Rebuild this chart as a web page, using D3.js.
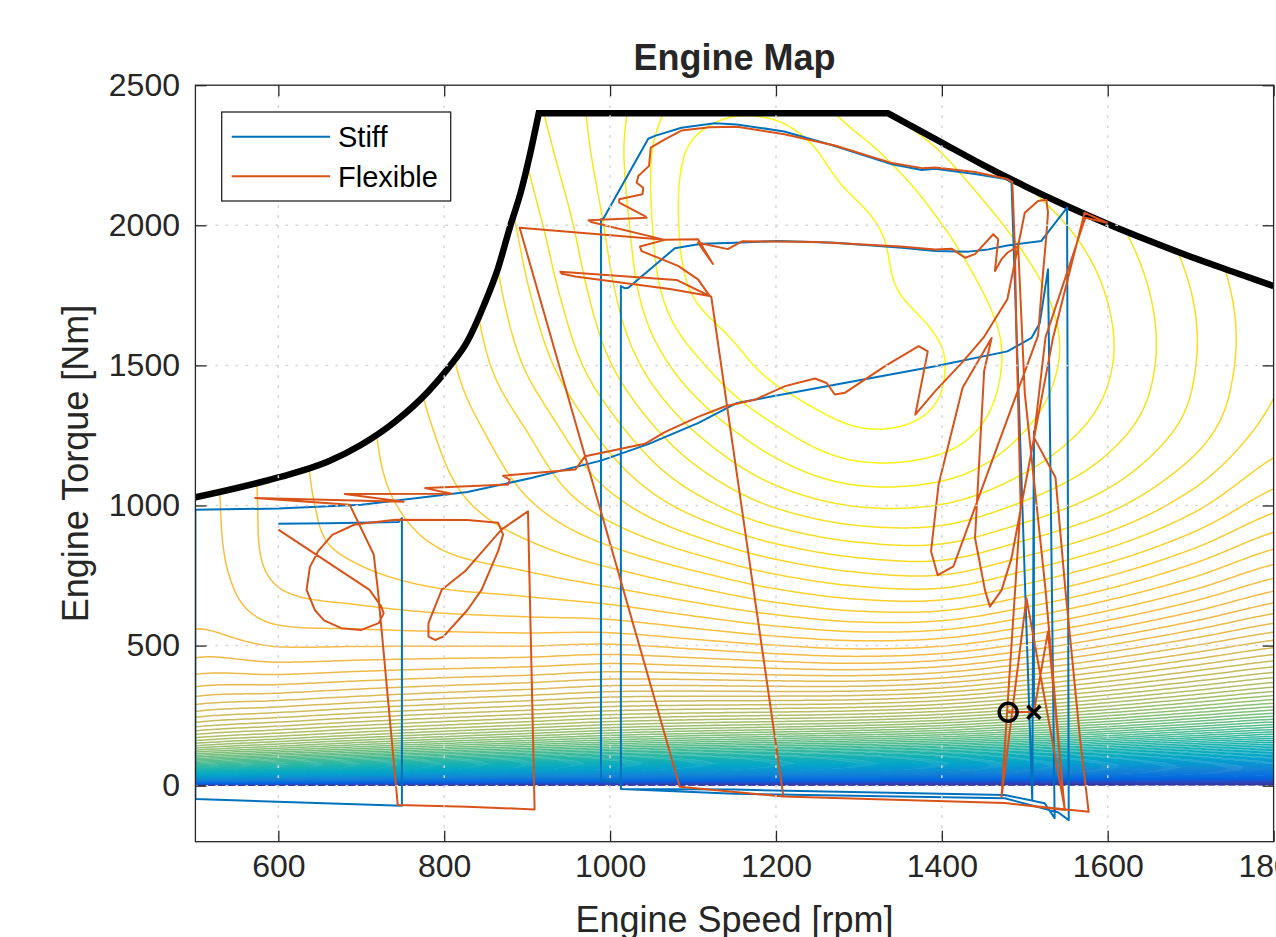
<!DOCTYPE html>
<meta charset="utf-8">
<style>
  body { margin: 0; background: #fff; }
  svg { display: block; font-family: "Liberation Sans", Arial, sans-serif; }
  .axis text { fill: #262626; font-size: 32px; font-family: "Liberation Sans", Arial, sans-serif; }
  .axis line { stroke: #262626; stroke-width: 1.3px; }
  .axis path { display: none; }
  .grid line { stroke: #d6d6d6; stroke-width: 1.5px; stroke-dasharray: 2.7 7.3; }
  .lbl { fill: #262626; font-size: 36px; }
</style>
<svg width="1276" height="937"></svg>
<script src="https://d3js.org/d3.v7.min.js"></script>
<script>
  // efficiency map, stored as indicated efficiency (%) on a speed x torque grid plus friction torque per speed
  var speedGrid = [500, 600, 700, 800, 900, 1000, 1100, 1200, 1300, 1400, 1500, 1600, 1700, 1800];
  var torqueGrid = [0, 250, 500, 750, 1000, 1250, 1500, 1750, 2000, 2250, 2500];
  var frictionTorque = [57, 68, 79, 90, 101, 112, 123, 134, 145, 156, 167, 178, 189, 200];
  var indicatedEff = [
    [40.4, 41.4, 42.2, 43.0, 43.8, 44.5, 45.5, 46.5, 47.5, 48.2, 48.1, 47.8, 47.3, 46.8],
    [40.7, 41.6, 42.4, 43.2, 44.0, 44.7, 45.7, 46.8, 47.8, 48.4, 48.3, 48.0, 47.5, 47.0],
    [40.4, 41.5, 42.3, 43.1, 43.9, 44.6, 45.7, 46.9, 48.0, 48.6, 48.5, 48.1, 47.6, 47.1],
    [39.5, 41.0, 41.9, 42.8, 43.6, 44.6, 45.8, 47.1, 48.2, 48.9, 48.7, 48.3, 47.7, 47.0],
    [38.9, 40.3, 41.3, 42.3, 43.4, 44.8, 46.3, 47.7, 48.7, 49.1, 48.9, 48.5, 47.8, 47.0],
    [38.5, 39.8, 40.8, 41.9, 43.2, 44.9, 46.6, 48.0, 49.0, 49.2, 48.7, 48.2, 47.5, 46.7],
    [38.1, 39.3, 40.4, 41.7, 43.3, 45.1, 46.9, 48.1, 48.6, 48.6, 48.1, 47.6, 46.8, 46.0],
    [37.7, 38.8, 40.0, 41.5, 43.3, 45.1, 47.1, 47.6, 47.8, 47.7, 47.3, 46.8, 46.0, 45.2],
    [37.2, 38.3, 39.6, 41.3, 43.3, 45.0, 46.9, 47.2, 47.3, 46.9, 46.4, 45.9, 45.1, 44.3],
    [36.7, 37.8, 39.2, 41.1, 43.4, 44.9, 46.5, 46.9, 46.5, 46.0, 45.4, 44.9, 44.1, 43.3],
    [36.2, 37.3, 38.8, 40.9, 43.5, 44.7, 45.8, 46.1, 45.6, 45.0, 44.4, 43.9, 43.1, 42.3]
  ];
  var levelStep = 0.5;

  // full load torque curve: rising part, then flat top and constant power part
  var limitRise = [[500, 1029], [600, 1100], [660, 1157], [700, 1217], [741, 1300], [781, 1408], [805, 1491],
    [828, 1586], [848, 1716], [865, 1848], [879, 1991], [893, 2126], [904, 2261], [914, 2400]];
  var limitFall = [[1335, 2400], [1400, 2295], [1450, 2215], [1500, 2140], [1550, 2070], [1600, 2005],
    [1650, 1945], [1700, 1888], [1750, 1835], [1800, 1783]];

  var stiffPath = [[600, 935], [660, 937], [745, 941], [749, 955], [749, -72], [500, -48], [500, 985], [600, 989],
    [700, 1003], [828, 1048], [905, 1098], [989, 1160], [1046, 1219], [1106, 1294], [1153, 1366], [1271, 1431],
    [1392, 1497], [1479, 1550], [1508, 1598], [1518, 1650], [1528, 1843], [1536, -116], [1524, -63], [1476, -33],
    [1150, -14], [1013, -12], [1013, 1783], [1018, 1775], [1022, 1777], [1078, 1918], [1110, 1934], [1151, 1938],
    [1203, 1944], [1271, 1938], [1352, 1920], [1392, 1908], [1432, 1906], [1456, 1914], [1479, 1928], [1520, 1944],
    [1540, 2021], [1551, 2063], [1553, -123], [1540, -95], [1476, -45], [1150, -29], [1013, -12], [1013, 14],
    [989, 18], [989, 2021], [992, 2024], [1046, 2309], [1054, 2319], [1086, 2348], [1126, 2364], [1153, 2360],
    [1210, 2335], [1271, 2283], [1340, 2218], [1376, 2197], [1392, 2202], [1440, 2183], [1479, 2164], [1484, 2152],
    [1509, -51], [1511, 1265], [1511, 263]];

  var flexPath = [[600, 914], [710, 699], [724, 640], [727, 615], [721, 580], [700, 556], [676, 562], [655, 590],
    [644, 627], [634, 699], [638, 780], [648, 837], [665, 895], [692, 932], [741, 949], [828, 948], [865, 938],
    [871, 896], [865, 837], [845, 699], [828, 627], [799, 532], [789, 520], [781, 532], [781, 580], [797, 699],
    [825, 765], [869, 914], [901, 979],
    [909, -85], [828, -75], [744, -69],
    [720, 699], [715, 825], [686, 1003], [572, 1027], [751, 1013], [680, 1041], [809, 1042], [777, 1062],
    [828, 1069], [869, 1074], [877, 1074], [879, 1092], [871, 1106], [958, 1128], [964, 1152], [970, 1176],
    [1042, 1220], [1066, 1262], [1106, 1316], [1139, 1354], [1175, 1378], [1211, 1426], [1247, 1453],
    [1261, 1437], [1271, 1396], [1283, 1402], [1332, 1498], [1372, 1569], [1383, 1550], [1368, 1324],
    [1392, 1408], [1424, 1509], [1450, 1598],
    [1479, 1736], [1500, 2045], [1516, 2087], [1526, 2091], [1528, 2045], [1526, 1962], [1522, 1831],
    [1516, 1606], [1478, 1300], [1414, 783], [1395, 751], [1387, 837], [1396, 1074], [1425, 1420],
    [1460, 1598], [1451, 1480], [1440, 884], [1452, 698], [1458, 639], [1472, 698], [1484, 812],
    [1505, 1144], [1534, 1598], [1572, 2045], [1599, 2009], [1573, 2027],
    [1525, 1600], [1511, 1243], [1537, 1100], [1549, 698], [1567, 157], [1577, -93],
    [1476, -62], [1209, -39], [1084, -4],
    [891, 1991], [1066, 1948], [1106, 1950], [1124, 1862], [1106, 1938], [1142, 1915], [1159, 1943],
    [1200, 1942], [1250, 1940], [1300, 1932], [1350, 1924], [1392, 1914], [1412, 1916], [1428, 1884],
    [1440, 1897], [1462, 1968], [1468, 1950], [1464, 1837], [1472, 1879], [1479, 1902], [1492, 1926],
    [1500, 1400], [1525, 700], [1548, -87], [1476, -62], [1209, -39],
    [1122, 1745], [1080, 1805], [940, 1834], [942, 1827], [958, 1817], [1074, 1772], [1120, 1748],
    [1106, 1807], [1082, 1855], [1038, 1908], [1036, 1924], [1066, 1948], [977, 2012], [974, 2018],
    [1044, 2027], [1042, 2033], [1011, 2081], [1011, 2093], [1039, 2111], [1040, 2134], [1032, 2152],
    [1034, 2176], [1047, 2212], [1049, 2277], [1066, 2307], [1086, 2338], [1120, 2350], [1153, 2352],
    [1210, 2325], [1271, 2285], [1340, 2222], [1376, 2204], [1392, 2206], [1440, 2190], [1478, 2166],
    [1485, 2155], [1488, 1926], [1490, 1604], [1495, 1000], [1472, -39], [1502, 669], [1548, -80],
    [1528, 550], [1511, 263], [1480, 263]];

  var circleMark = [1480, 262];
  var crossMark = [1511, 262];

  var xTicks = [600, 800, 1000, 1200, 1400, 1600, 1800];
  var yTicks = [0, 500, 1000, 1500, 2000, 2500];

  // parula colormap, every 4th entry of the 64-colour table
  var parulaStops = ["#352A87", "#3243BA", "#0363E1", "#0D75DC", "#1485D4", "#0998D1", "#06A7C6", "#15B1B4",
    "#38B99E", "#65BE86", "#92BF73", "#B7BD64", "#D9BA56", "#F8BA44", "#FCCE2E", "#F5E41D", "#F9FB0E"];
  var parulaPos = [0, 4, 8, 12, 16, 20, 24, 28, 32, 36, 40, 44, 48, 52, 56, 60, 63].map(function (k) { return k / 63; });
  var parula = d3.scaleLinear().domain(parulaPos).range(parulaStops).clamp(true);

  var svg = d3.select("svg"),
    margin = { top: 85.2, right: 2.4, bottom: 95.3, left: 195.4 },
    width = +svg.attr("width") - margin.left - margin.right,
    height = +svg.attr("height") - margin.top - margin.bottom;

  var x = d3.scaleLinear().domain([500, 1800]).range([0, width]),
    y = d3.scaleLinear().domain([-200, 2500]).range([height, 0]);

  var g = svg.append("g").attr("transform", "translate(" + margin.left + "," + margin.top + ")");

  var line = d3.line().x(function (d) { return x(d[0]); }).y(function (d) { return y(d[1]); });
  var smooth = d3.line().curve(d3.curveMonotoneX).x(function (d) { return x(d[0]); }).y(function (d) { return y(d[1]); });
  // one path: smooth rise, straight top, smooth fall
  var limitD = smooth(limitRise) + smooth(limitFall).replace(/^M/, "L");

  var defs = svg.append("defs");
  defs.append("clipPath").attr("id", "plot-clip")
    .append("rect").attr("width", width).attr("height", height);
  defs.append("clipPath").attr("id", "map-clip")
    .append("path")
    .attr("d", limitD + "L" + x(1800) + "," + y(0) + "L" + x(500) + "," + y(0) + "Z");

  // smooth lookup in the indicated efficiency table
  function cr(p0, p1, p2, p3, t) {
    return p1 + 0.5 * t * (p2 - p0 + t * (2 * p0 - 5 * p1 + 4 * p2 - p3 + t * (3 * (p1 - p2) + p3 - p0)));
  }
  var dn = speedGrid[1] - speedGrid[0], dT = torqueGrid[1] - torqueGrid[0];
  function indicated(n, T) {
    var gx = (n - speedGrid[0]) / dn, gy = (T - torqueGrid[0]) / dT;
    var i = Math.min(Math.floor(gx), speedGrid.length - 2), j = Math.min(Math.floor(gy), torqueGrid.length - 2);
    var tx = gx - i, ty = gy - j;
    function cell(r, c) {
      r = Math.max(0, Math.min(torqueGrid.length - 1, r));
      c = Math.max(0, Math.min(speedGrid.length - 1, c));
      return indicatedEff[r][c];
    }
    function row(r) { return cr(cell(r, i - 1), cell(r, i), cell(r, i + 1), cell(r, i + 2), tx); }
    return cr(row(j - 1), row(j), row(j + 1), row(j + 2), ty);
  }

  var ds = 5, dt = 2.5,
    nx = Math.round((1800 - 500) / ds) + 1,
    ny = Math.round(2500 / dt) + 1;
  var tfScale = d3.scaleLinear().domain(speedGrid).range(frictionTorque);
  var colTf = d3.range(nx).map(function (i) { return tfScale(500 + i * ds); });
  var field = new Float64Array(nx * ny);
  for (var j = 0; j < ny; j++) {
    var T = j * dt;
    for (var i = 0; i < nx; i++) {
      field[j * nx + i] = indicated(500 + i * ds, T) * T / (T + colTf[i]);
    }
  }
  var zMax = d3.max(field);
  var levels = d3.range(levelStep, zMax, levelStep);

  var contours = d3.contours().size([nx, ny]).thresholds(levels)(field);
  var proj = d3.geoTransform({
    point: function (px, py) { this.stream.point(x(500 + (px - 0.5) * ds), y((py - 0.5) * dt)); }
  });
  var contourPath = d3.geoPath(proj);

  g.append("g")
    .attr("clip-path", "url(#map-clip)")
    .selectAll("path")
    .data(contours)
    .enter().append("path")
    .attr("d", contourPath)
    .attr("fill", "none")
    .attr("stroke", function (d) { return parula(d.value / zMax); })
    .attr("stroke-width", 1.5);

  var plot = g.append("g").attr("clip-path", "url(#plot-clip)");

  plot.append("path")
    .attr("d", limitD)
    .attr("fill", "none")
    .attr("stroke", "#000")
    .attr("stroke-width", 6.5);

  plot.append("path")
    .attr("d", line(stiffPath))
    .attr("fill", "none")
    .attr("stroke", "#0072BD")
    .attr("stroke-width", 2)
    .attr("stroke-linejoin", "round");

  plot.append("path")
    .attr("d", line(flexPath))
    .attr("fill", "none")
    .attr("stroke", "#D95319")
    .attr("stroke-width", 2)
    .attr("stroke-linejoin", "round");

  plot.append("circle")
    .attr("cx", x(circleMark[0])).attr("cy", y(circleMark[1])).attr("r", 9)
    .attr("fill", "none").attr("stroke", "#000").attr("stroke-width", 3.5);

  var cx = x(crossMark[0]), cy = y(crossMark[1]), s = 6.5;
  plot.append("path")
    .attr("d", "M" + (cx - s) + "," + (cy - s) + "L" + (cx + s) + "," + (cy + s) +
      "M" + (cx - s) + "," + (cy + s) + "L" + (cx + s) + "," + (cy - s))
    .attr("stroke", "#000").attr("stroke-width", 3.5);

  // dotted grid on top
  var grid = g.append("g").attr("class", "grid");
  grid.selectAll(".gx")
    .data(xTicks.filter(function (d) { return d > 500 && d < 1800; }))
    .enter().append("line")
    .attr("x1", function (d) { return x(d); }).attr("x2", function (d) { return x(d); })
    .attr("y1", 0).attr("y2", height);
  grid.selectAll(".gy")
    .data(yTicks.filter(function (d) { return d > -200 && d < 2500; }))
    .enter().append("line")
    .attr("y1", function (d) { return y(d); }).attr("y2", function (d) { return y(d); })
    .attr("x1", 0).attr("x2", width);

  // axes
  var fmt = d3.format("d");
  g.append("g")
    .attr("class", "axis")
    .attr("transform", "translate(0," + height + ")")
    .call(d3.axisBottom(x).tickValues(xTicks).tickFormat(fmt).tickSize(-11).tickSizeOuter(0).tickPadding(13));
  g.append("g")
    .attr("class", "axis")
    .call(d3.axisTop(x).tickValues(xTicks).tickSize(-11).tickSizeOuter(0).tickFormat(""));
  g.append("g")
    .attr("class", "axis")
    .call(d3.axisLeft(y).tickValues(yTicks).tickFormat(fmt).tickSize(-11).tickSizeOuter(0).tickPadding(15.4));
  g.append("g")
    .attr("class", "axis")
    .attr("transform", "translate(" + width + ",0)")
    .call(d3.axisRight(y).tickValues(yTicks).tickSize(-11).tickSizeOuter(0).tickFormat(""));

  g.append("rect")
    .attr("width", width).attr("height", height)
    .attr("fill", "none").attr("stroke", "#262626").attr("stroke-width", 1.3);

  // titles
  svg.append("text").attr("class", "lbl")
    .attr("x", margin.left + width / 2).attr("y", 70)
    .attr("text-anchor", "middle").attr("font-weight", "bold").attr("fill", "#000")
    .text("Engine Map");
  svg.append("text").attr("class", "lbl")
    .attr("x", margin.left + width / 2).attr("y", 932)
    .attr("text-anchor", "middle")
    .text("Engine Speed [rpm]");
  svg.append("text").attr("class", "lbl")
    .attr("transform", "translate(88," + (margin.top + height / 2) + ") rotate(-90)")
    .attr("text-anchor", "middle")
    .text("Engine Torque [Nm]");

  // legend
  var legend = svg.append("g");
  legend.append("rect")
    .attr("x", 221.7).attr("y", 112).attr("width", 229).attr("height", 89)
    .attr("fill", "#fff").attr("stroke", "#262626").attr("stroke-width", 1.3);
  var items = [["Stiff", "#0072BD", 136.7], ["Flexible", "#D95319", 176.3]];
  items.forEach(function (it) {
    legend.append("line")
      .attr("x1", 231.7).attr("x2", 330).attr("y1", it[2]).attr("y2", it[2])
      .attr("stroke", it[1]).attr("stroke-width", 2);
    legend.append("text")
      .attr("x", 338).attr("y", it[2] + 10.4)
      .attr("font-size", "29px").attr("fill", "#000")
      .text(it[0]);
  });
</script>
